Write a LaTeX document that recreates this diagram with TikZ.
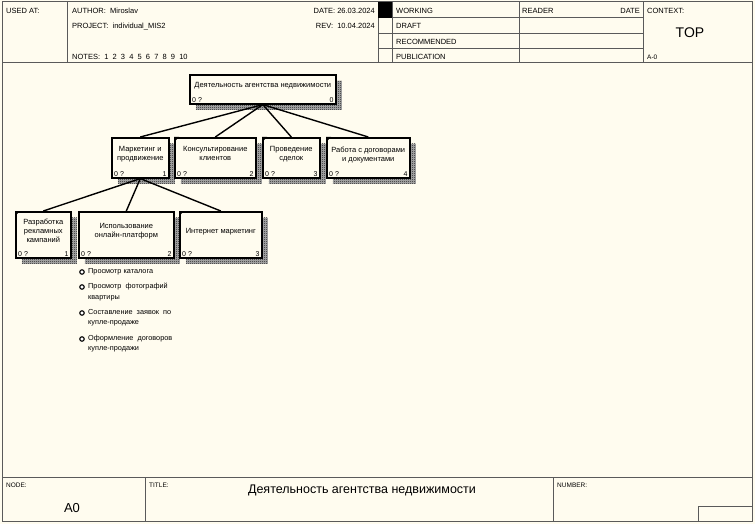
\documentclass[tikz,border=0pt]{standalone}
\usepackage{fontspec}
\setmainfont{Liberation Sans}
\usetikzlibrary{patterns,shadows}
\definecolor{paper}{HTML}{FFFCEF}
\definecolor{framegray}{HTML}{5A5A5A}
\pgfdeclarepatternformonly{checker}{\pgfqpoint{0pt}{0pt}}{\pgfqpoint{2pt}{2pt}}{\pgfqpoint{2pt}{2pt}}{
	\pgfpathrectangle{\pgfqpoint{0pt}{0pt}}{\pgfqpoint{1pt}{1pt}}
	\pgfpathrectangle{\pgfqpoint{1pt}{1pt}}{\pgfqpoint{1pt}{1pt}}
	\pgfusepath{fill}}
\begin{document}
\begin{tikzpicture}[x=1pt, y=-1pt,
  actbox/.style={draw, line width=1.6pt, fill=paper, anchor=north west, align=center, inner sep=1pt,
    text depth=8pt, font=\fontsize{7.5}{9}\selectfont,
    general shadow={draw=none, shadow xshift=6pt, shadow yshift=-6pt, fill=black!30, postaction={pattern=checker, pattern color=black!90}}},
  numlbl/.style={inner xsep=3pt, inner ysep=1.5pt, font=\fontsize{7}{8}\selectfont},
  hdtxt/.style={inner sep=0pt, anchor=base west, font=\fontsize{7.5}{9}\selectfont},
  link/.style={line width=1.4pt},
  tick/.style={fill=black},
  bullet/.style={circle, draw, line width=1.1pt, fill=white, inner sep=0pt, minimum size=4.5pt},
  item/.style={anchor=north west, align=left, inner sep=0pt, font=\fontsize{7.3}{10.5}\selectfont}]

	\useasboundingbox (0,0) rectangle (755,524);
	\fill[paper] (0,0) rectangle (755,524);

	% frame
	\begin{scope}[draw=framegray, line width=1pt]
		\draw (2,2) rectangle (752,521);
		\draw (2,63) -- (752,63);
		\draw (67,2) -- (67,63);
		\draw (378,2) -- (378,63);
		\draw (392,2) -- (392,63);
		\draw (519,2) -- (519,63);
		\draw (643,2) -- (643,63);
		\draw (378,18) -- (643,18);
		\draw (378,34) -- (643,34);
		\draw (378,49) -- (643,49);
		\fill[black] (378,2) rectangle (392,18);
		\draw (2,477) -- (752,477);
		\draw (145,477) -- (145,521);
		\draw (553,477) -- (553,521);
		\draw (698,521) -- (698,506) -- (752,506);
	\end{scope}

	% header
	\node[hdtxt] (usedat) at (6,14) {USED AT:};
	\node[hdtxt] (author) at (72,14) {AUTHOR:\ \ Miroslav};
	\node[hdtxt] (project) at (72,29) {PROJECT:\ \ individual\_MIS2};
	\node[hdtxt] (notes) at (72,60) {NOTES:\ \ 1\ \ 2\ \ 3\ \ 4\ \ 5\ \ 6\ \ 7\ \ 8\ \ 9\ \ 10};
	\node[hdtxt, anchor=base east] (date) at (375,14) {DATE: 26.03.2024};
	\node[hdtxt, anchor=base east] (rev) at (375,29) {REV:\ \ 10.04.2024};
	\node[hdtxt] (working) at (396,14) {WORKING};
	\node[hdtxt] (draft) at (396,29) {DRAFT};
	\node[hdtxt] (recom) at (396,45) {RECOMMENDED};
	\node[hdtxt] (public) at (396,60) {PUBLICATION};
	\node[hdtxt] (reader) at (522,14) {READER};
	\node[hdtxt, anchor=base east] (rdate) at (640,14) {DATE};
	\node[hdtxt] (context) at (647,14) {CONTEXT:};
	\node[inner sep=0pt, font=\fontsize{14}{16}\selectfont] (top) at (690,33) {TOP};
	\node[hdtxt, font=\fontsize{6.5}{8}\selectfont] (ctxnum) at (647,60) {A-0};

	% footer
	\node[hdtxt, font=\fontsize{6.5}{8}\selectfont] (nodelbl) at (6,487) {NODE:};
	\node[inner sep=0pt, font=\fontsize{13}{15}\selectfont] (nodenum) at (72,508) {A0};
	\node[hdtxt, font=\fontsize{6.5}{8}\selectfont] (titlelbl) at (149,487) {TITLE:};
	\node[inner sep=0pt, font=\fontsize{12.5}{15}\selectfont] (title) at (362,490) {Деятельность агентства недвижимости};
	\node[hdtxt, font=\fontsize{6.5}{8}\selectfont] (numberlbl) at (557,487) {NUMBER:};

	% boxes
	\node[actbox, minimum width=146pt, minimum height=29pt] (a0) at (189,74) {Деятельность агентства недвижимости};
	\node[actbox, minimum width=57pt, minimum height=40pt] (a1) at (111,137) {Маркетинг и\\продвижение};
	\node[actbox, minimum width=81pt, minimum height=40pt] (a2) at (174,137) {Консультирование\\клиентов};
	\node[actbox, minimum width=57pt, minimum height=40pt] (a3) at (262,137) {Проведение\\сделок};
	\node[actbox, minimum width=83pt, minimum height=40pt] (a4) at (326,137) {Работа с договорами\\и документами};
	\node[actbox, minimum width=55pt, minimum height=46pt] (a11) at (15,211) {Разработка\\рекламных\\кампаний};
	\node[actbox, minimum width=95pt, minimum height=46pt] (a12) at (78,211) {Использование\\онлайн-платформ};
	\node[actbox, minimum width=82pt, minimum height=46pt] (a13) at (179,211) {Интернет маркетинг};

	% numbers
	\node[numlbl, anchor=south west] (a0q) at (a0.south west) {0 ?};
	\node[numlbl, anchor=south east] (a0n) at (a0.south east) {0};
	\node[numlbl, anchor=south west] (a1q) at (a1.south west) {0 ?};
	\node[numlbl, anchor=south east] (a1n) at (a1.south east) {1};
	\node[numlbl, anchor=south west] (a2q) at (a2.south west) {0 ?};
	\node[numlbl, anchor=south east] (a2n) at (a2.south east) {2};
	\node[numlbl, anchor=south west] (a3q) at (a3.south west) {0 ?};
	\node[numlbl, anchor=south east] (a3n) at (a3.south east) {3};
	\node[numlbl, anchor=south west] (a4q) at (a4.south west) {0 ?};
	\node[numlbl, anchor=south east] (a4n) at (a4.south east) {4};
	\node[numlbl, anchor=south west] (a11q) at (a11.south west) {0 ?};
	\node[numlbl, anchor=south east] (a11n) at (a11.south east) {1};
	\node[numlbl, anchor=south west] (a12q) at (a12.south west) {0 ?};
	\node[numlbl, anchor=south east] (a12n) at (a12.south east) {2};
	\node[numlbl, anchor=south west] (a13q) at (a13.south west) {0 ?};
	\node[numlbl, anchor=south east] (a13n) at (a13.south east) {3};

	% corner ticks
	\foreach \b in {a2,a3,a4,a11,a13}
		\fill[tick] (\b.north west) -- ([xshift=5pt]\b.north west) -- ([yshift=-5pt]\b.north west) -- cycle;

	% links
	\draw[link] (a0.south) -- (a1.north);
	\draw[link] (a0.south) -- (a2.north);
	\draw[link] (a0.south) -- (a3.north);
	\draw[link] (a0.south) -- (a4.north);
	\draw[link] (a1.south) -- (a11.north);
	\draw[link] (a1.south) -- (a12.north);
	\draw[link] (a1.south) -- (a13.north);

	% list
	\node[bullet] (b1) at (82,272) {};
	\node[item] (t1) at (88,268) {Просмотр каталога};
	\node[bullet] (b2) at (82,287) {};
	\node[item] (t2) at (88,283) {Просмотр\ \ фотографий\\квартиры};
	\node[bullet] (b3) at (82,313) {};
	\node[item] (t3) at (88,309) {Составление\ \ заявок\ \ по\\купле-продаже};
	\node[bullet] (b4) at (82,339) {};
	\node[item] (t4) at (88,335) {Оформление\ \ договоров\\купле-продажи};

\end{tikzpicture}
\end{document}
